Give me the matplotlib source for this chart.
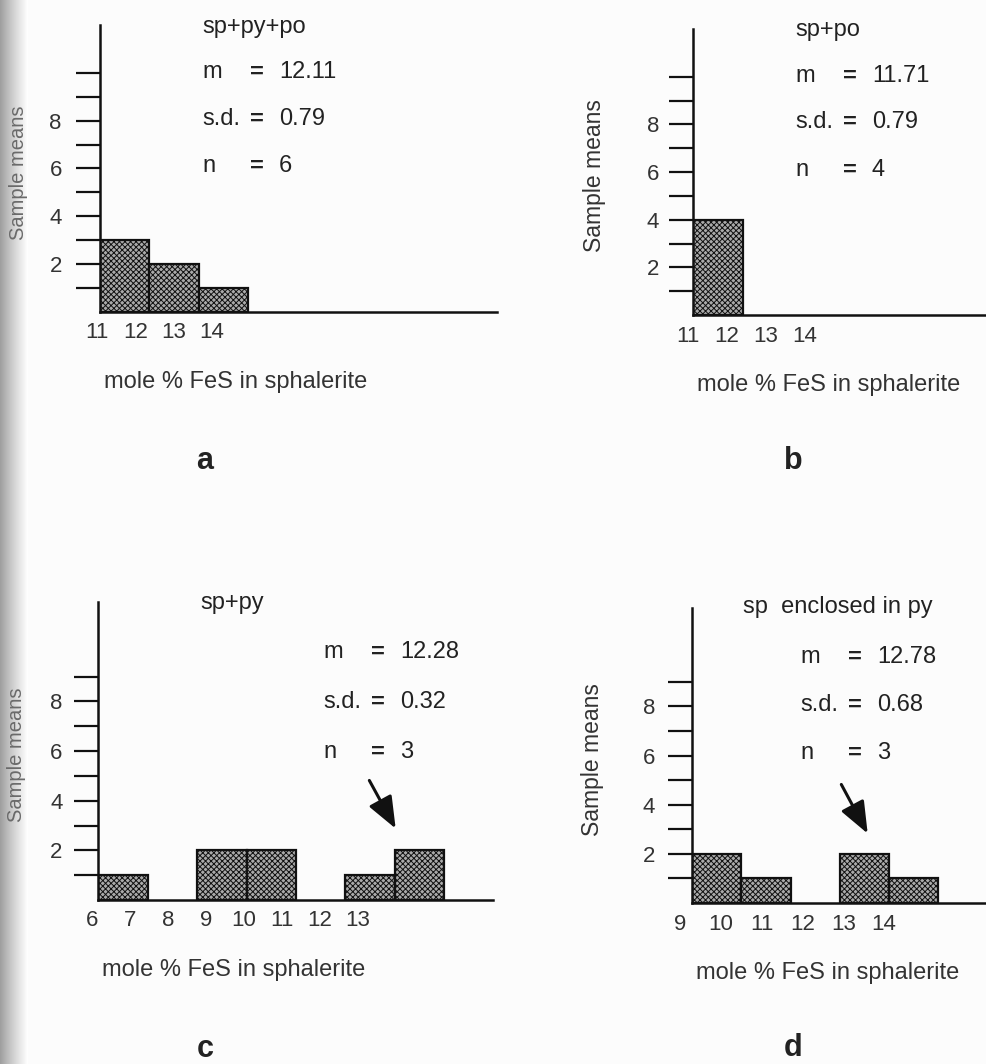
import numpy as np
import matplotlib
matplotlib.use("Agg")
import matplotlib.pyplot as plt

plt.rcParams['font.family'] = ['Liberation Sans', 'DejaVu Sans']
plt.rcParams['hatch.linewidth'] = 0.7
plt.rcParams['hatch.color'] = '#3a3a3a'

W, H = 987, 1064

# data
bins_a = [11, 12, 13]
counts_a = [3, 2, 1]
ticks_a = [11, 12, 13, 14]

bins_b = [11]
counts_b = [4]
ticks_b = [11, 12, 13, 14]

bins_c = [6, 8, 9, 11, 12]
counts_c = [1, 2, 2, 1, 2]
ticks_c = [6, 7, 8, 9, 10, 11, 12, 13]

bins_d = [9, 10, 12, 13]
counts_d = [2, 1, 2, 1]
ticks_d = [9, 10, 11, 12, 13, 14]

titles = ["sp+py+po", "sp+po", "sp+py", "sp  enclosed in py"]
means = ["12.11", "11.71", "12.28", "12.78"]
sds = ["0.79", "0.79", "0.32", "0.68"]
ns = ["6", "4", "3", "3"]
letters = ["a", "b", "c", "d"]
xlabel = "mole % FeS in sphalerite"
ylabel = "Sample means"


def fx(x):
    return x / W


def fy(y):
    return 1 - y / H


fig = plt.figure(figsize=(W / 100, H / 100), dpi=100)
fig.patch.set_facecolor('#fcfcfc')

# scanned-page shadow on the left edge
sh = fig.add_axes([0, 0, 28 / W, 1])
grad = np.linspace(0.45, 1.0, 200) ** 0.6
sh.imshow(grad[None, :], cmap='gray', vmin=0, vmax=1, aspect='auto')
sh.axis('off')

# panel layout in pixels: axis left, axis right, top, bottom(x-axis), px per bin,
# tick-label offset & step, max minor tick, ylabel x, label colour/size, text x, text y
panels = [
    dict(bins=bins_a, counts=counts_a, ticks=ticks_a, l=100, r=497, t=25, b=312, u=49.3,
         toff=-3, tstep=38.3, ntk=10, ylx=19, ylc='#6a6a6a', yls=14.5,
         tx=202, ty=27, sx=202, sy=[72, 119, 166], pad=10, arrow=None, letter=(205, 461)),
    dict(bins=bins_b, counts=counts_b, ticks=ticks_b, l=693, r=1000, t=29, b=315, u=50,
         toff=-5, tstep=39, ntk=10, ylx=594, ylc='#333333', yls=16.5,
         tx=795, ty=30, sx=795, sy=[76, 122, 170], pad=7, arrow=None, letter=(793, 461)),
    dict(bins=bins_c, counts=counts_c, ticks=ticks_c, l=98, r=493, t=602, b=900, u=49.5,
         toff=-6, tstep=37.9, ntk=9, ylx=17, ylc='#6a6a6a', yls=14.5,
         tx=200, ty=603, sx=323, sy=[652, 702, 752], pad=8,
         arrow=((368, 778), (397, 831)), letter=(205, 1049)),
    dict(bins=bins_d, counts=counts_d, ticks=ticks_d, l=692, r=1000, t=608, b=903, u=49.3,
         toff=-12, tstep=40.8, ntk=9, ylx=593, ylc='#333333', yls=16.5,
         tx=743, ty=607, sx=800, sy=[657, 705, 753], pad=9,
         arrow=((840, 782), (869, 836)), letter=(793, 1048)),
]

for i, p in enumerate(panels):
    ax = fig.add_axes([fx(p['l']), fy(p['b']), (p['r'] - p['l']) / W, (p['b'] - p['t']) / H])
    ax.set_facecolor('none')
    x0 = p['ticks'][0]
    ax.bar(p['bins'], p['counts'], width=1, align='edge', color='#aaaaaa',
           edgecolor='#111111', linewidth=1.6, hatch='xxxxxx', zorder=2)
    for s in ['top', 'right']:
        ax.spines[s].set_visible(False)
    for s in ['left', 'bottom']:
        ax.spines[s].set_linewidth(1.8)
        ax.spines[s].set_color('#111111')
        ax.spines[s].set_zorder(3)
    ax.set_yticks([2, 4, 6, 8])
    ax.set_yticks([k for k in range(1, p['ntk'] + 1) if k % 2 == 1 or k > 8], minor=True)
    ax.tick_params(axis='y', which='both', length=17.5, width=1.6, color='#111111',
                   direction='out', labelsize=16, labelcolor='#333333', pad=p['pad'])
    ax.set_xticks([])
    ax.set_xlim(x0, x0 + (p['r'] - p['l']) / p['u'])
    ax.set_ylim(0, 12)
    # category labels under the axis (printed closer together than the bins)
    ylab = -21 / (p['b'] - p['t'])
    for k, t in enumerate(p['ticks']):
        xp = x0 + (p['toff'] + p['tstep'] * k) / p['u']
        ax.text(xp, ylab, str(t), transform=ax.get_xaxis_transform(), fontsize=16,
                color='#333333', ha='center', va='center', clip_on=False)

    # labels
    fig.text(fx(p['l'] + 4), fy(p['b'] + 70), xlabel, fontsize=17, color='#333333',
             ha='left', va='center')
    fig.text(fx(p['ylx']), fy((p['t'] + p['b']) / 2 + 4), ylabel, rotation=90,
             fontsize=p['yls'], color=p['ylc'], ha='center', va='center')
    fig.text(fx(p['tx']), fy(p['ty']), titles[i], fontsize=17, color='#222222',
             ha='left', va='center')
    for lab, val, yy in zip(["m", "s.d.", "n"], [means[i], sds[i], ns[i]], p['sy']):
        fig.text(fx(p['sx']), fy(yy), lab, fontsize=17, color='#222222', ha='left', va='center')
        fig.text(fx(p['sx'] + 48), fy(yy), "=", fontsize=17, color='#222222',
                 ha='left', va='center', fontweight='bold')
        fig.text(fx(p['sx'] + 77), fy(yy), val, fontsize=17, color='#222222',
                 ha='left', va='center')
    if p['arrow'] is not None:
        (ax1, ay1), (ax2, ay2) = p['arrow']
        fig.add_artist(matplotlib.patches.FancyArrowPatch(
            (fx(ax1), fy(ay1)), (fx(ax2), fy(ay2)), transform=fig.transFigure,
            arrowstyle='-|>,head_length=0.75,head_width=0.3', mutation_scale=26,
            linewidth=2.2, color='#111111'))
    fig.text(fx(p['letter'][0]), fy(p['letter'][1]), letters[i], fontsize=22,
             fontweight='bold', color='#222222', ha='center', va='center')

fig.savefig("out.png", dpi=100, facecolor=fig.get_facecolor())
